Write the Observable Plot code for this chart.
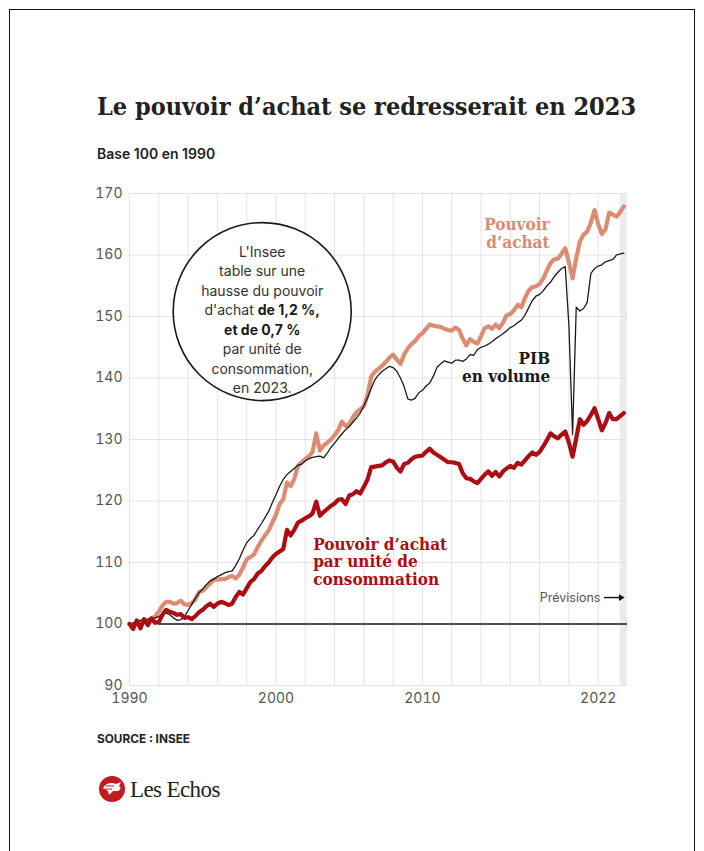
<!DOCTYPE html>
<html><head><meta charset="utf-8">
<script src="https://cdn.jsdelivr.net/npm/d3@7"></script>
<script src="https://cdn.jsdelivr.net/npm/@observablehq/plot@0.6"></script>
<style>
body{margin:0;background:#fff;width:704px;height:851px;position:relative;overflow:hidden;font-family:Inter,"Noto Sans",sans-serif;}
#frame{position:absolute;left:9px;top:9px;width:686px;height:860px;border:1px solid #111;box-sizing:border-box;}
#title{position:absolute;left:97px;top:94px;font-family:"DejaVu Serif Condensed","DejaVu Serif",serif;font-stretch:condensed;font-weight:bold;font-size:25px;line-height:1;color:#222;white-space:nowrap;}
#sub{position:absolute;left:97px;top:147px;font-weight:600;font-size:14px;line-height:1;color:#222;white-space:nowrap;}
#chart{position:absolute;left:0;top:170px;}
#source{position:absolute;left:97px;top:734px;font-size:11.8px;font-weight:700;line-height:1;color:#222;}
#logo{position:absolute;left:97px;top:774px;}
</style>
</head><body>
<div id="frame"></div>
<div id="title">Le pouvoir d’achat se redresserait en 2023</div>
<div id="sub">Base 100 en 1990</div>
<div id="chart"></div>
<div id="source">SOURCE : INSEE</div>
<div id="logo"><svg width="150" height="32">
<circle cx="15" cy="15" r="13" fill="#c41a1f"/>
<path d="M6 14 C9 9,14 8,19 10 L24 8 L22 12 C24 13,24 16,21 17 L16 17 L12 21 L11 17 Z" fill="#fff"/>
<path d="M9 12 L17 12 M8 15 L15 15" stroke="#c41a1f" stroke-width="1"/>
<text x="33" y="23" font-family="Liberation Serif, serif" font-size="23" fill="#222" letter-spacing="-0.6">Les Echos</text>
</svg></div>
<script>
// ---- Data (quarterly, 1990 Q1 to 2023 Q4), base 100 in 1990 ----
const years = d3.range(1990, 2024, 0.25);

// Pouvoir d'achat
const pouvoirAchat = [
100.0, 99.5,100.4,100.3,
100.7,100.4,100.9,101.2,
102.0,103.0,103.6,103.6,
103.3,103.4,103.8,103.2,
103.1,103.4,104.0,105.2,
105.4,106.0,106.6,107.2,
107.2,107.3,107.3,107.6,
107.8,107.4,108.0,109.2,
110.5,110.9,111.3,112.5,
113.5,114.4,115.2,116.5,
117.8,119.5,120.3,123.0,
122.4,123.6,125.7,126.3,
126.8,127.3,128.0,131.0,
128.2,129.0,129.5,130.0,
130.7,131.5,132.9,132.2,
132.5,133.6,134.4,134.9,
135.4,137.2,140.2,141.0,
141.5,142.0,142.6,143.3,
143.8,143.0,142.3,143.8,
144.8,145.5,146.0,146.8,
147.3,148.0,148.7,148.5,
148.4,148.3,148.0,147.8,
147.7,148.2,147.8,146.4,
145.3,146.3,145.9,145.6,
146.8,148.1,148.4,148.0,
148.7,148.1,149.0,150.2,
150.4,151.0,151.9,151.5,
153.0,154.2,154.8,154.9,
155.3,156.2,157.5,158.7,
159.3,159.4,160.2,161.1,
158.8,156.2,159.5,162.2,
163.3,163.8,165.3,167.3,
165.0,163.4,164.2,166.9,
166.6,166.2,167.0,167.9];

// Pouvoir d'achat par unité de consommation
const pouvoirAchatUC = [
100.0, 99.2,100.6, 99.3,
100.8, 99.8,100.9,100.2,
100.3,101.5,102.3,102.0,
101.8,101.5,101.6,101.0,
101.1,100.8,101.3,101.9,
102.3,102.9,103.3,102.8,
103.3,103.6,103.4,103.1,
103.3,104.4,105.2,104.8,
105.8,106.8,107.3,108.2,
108.6,109.4,110.0,110.8,
111.4,111.8,112.2,115.3,
114.4,115.3,116.5,116.8,
117.2,117.5,118.0,119.9,
117.6,118.2,118.7,119.2,
119.6,120.2,120.3,119.5,
120.9,121.1,121.6,121.2,
122.3,123.5,125.5,125.6,
125.7,125.8,126.3,126.6,
126.4,125.4,124.8,126.0,
126.2,126.8,127.2,127.3,
127.4,128.0,128.5,127.9,
127.5,127.1,126.7,126.3,
126.3,126.2,126.0,124.5,
123.7,123.6,123.2,122.9,
123.6,124.3,124.8,124.1,
124.7,124.0,124.8,125.3,
125.7,125.4,126.2,125.9,
126.6,127.3,127.9,127.5,
128.0,128.9,129.9,131.0,
130.5,130.2,130.8,131.3,
129.5,127.2,130.2,133.3,
132.4,133.0,134.0,135.1,
133.3,131.5,132.7,134.3,
133.3,133.3,133.8,134.3];

// PIB en volume
const pibVolume = [
100.0,100.2,100.4,100.6,
100.6,100.8,100.9,101.0,
101.2,101.6,101.8,101.5,
101.0,100.6,100.7,101.2,
102.2,103.2,104.2,105.1,
105.7,106.4,107.0,107.3,
107.7,108.0,108.3,108.5,
108.6,109.5,110.6,112.0,
113.2,113.9,114.4,115.4,
116.3,117.3,118.3,119.7,
121.0,122.4,123.5,124.3,
124.8,125.3,125.8,126.0,
126.5,126.9,127.1,127.2,
127.3,127.0,127.8,128.7,
129.4,130.2,130.9,131.6,
132.1,132.8,133.5,134.3,
135.5,136.8,138.3,139.7,
140.5,141.1,141.5,141.9,
141.7,141.1,140.0,138.6,
136.6,136.4,136.7,137.6,
138.0,138.7,139.2,140.3,
141.8,142.3,142.8,142.6,
142.4,142.9,142.9,142.7,
143.1,143.8,143.7,144.6,
145.0,145.2,145.5,145.9,
146.4,146.8,147.2,147.7,
148.2,148.5,149.0,149.4,
150.2,151.4,152.6,153.3,
153.6,154.2,155.0,155.6,
156.5,157.2,157.8,158.1,
148.5,130.8,151.5,150.9,
151.3,152.3,157.0,157.8,
158.2,158.4,158.9,159.1,
159.3,160.0,160.2,160.3];

// Axes
const xDomain = [1990, 2024];
const yDomain = [90, 170];
const xTickLabels = [1990, 2000, 2010, 2022];
const xGridYears = [1990,1992,1994,1996,1998,2000,2002,2004,2006,2008,2010,2012,2014,2016,2018,2020,2022];
const yTicks = [90,100,110,120,130,140,150,160,170];
const baseline = [{y: 100, from: 1992, to: 2024}];
const forecast = [{from: 2023.5, to: 2024}];

// Annotations (data coordinates)
const rightLabels = [
  {text: "Pouvoir\nd’achat", x: 2018.68, y: 161.2, color: "#d98a70"},
  {text: "PIB\nen volume", x: 2018.72, y: 139.4, color: "#1a1a1a"}
];
const leftLabels = [
  {text: "Pouvoir d’achat\npar unité de\nconsommation", x: 2002.54, y: 106.3, color: "#ac0c12"}
];
const bubble = [{x: 1999.06, y: 150.8,
  text: "L'Insee\ntable sur une\nhausse du pouvoir\nd'achat de 1,2 %,\net de 0,7 %\npar unité de\nconsommation,\nen 2023.", textY: 137.55}];
const forecastNote = [{text: "Prévisions", x: 2022.15, y: 104.3, arrowFrom: 2022.4, arrowTo: 2023.55}];

const table = years.map((yr, i) => ({year: yr, pa: pouvoirAchat[i], uc: pouvoirAchatUC[i], pib: pibVolume[i]}));

const serif = "'DejaVu Serif Condensed','DejaVu Serif',serif";

const chart = Plot.plot({
  width: 704, height: 545,
  marginLeft: 129, marginRight: 77, marginTop: 23, marginBottom: 30,
  style: {fontFamily: "Inter, 'Noto Sans', sans-serif", fontSize: "14px", color: "#555", background: "transparent", overflow: "visible"},
  x: {domain: xDomain, ticks: xTickLabels, tickFormat: d => String(d), tickSize: 0, tickPadding: 8, label: null},
  y: {domain: yDomain, ticks: yTicks, tickSize: 0, tickPadding: 7, label: null},
  marks: [
    Plot.rect(forecast, {x1: "from", x2: "to", y1: yDomain[0], y2: yDomain[1], fill: "#ececec"}),
    Plot.ruleX(xGridYears, {stroke: "#e3e3e3", strokeWidth: 1}),
    Plot.ruleY(yTicks, {stroke: "#e3e3e3", strokeWidth: 1}),
    Plot.ruleY(baseline, {y: "y", x1: "from", x2: "to", stroke: "#1a1a1a", strokeWidth: 1.3}),
    Plot.line(table, {x: "year", y: "pa", stroke: "#dc8c73", strokeWidth: 4.2}),
    Plot.line(table, {x: "year", y: "pib", stroke: "#1a1a1a", strokeWidth: 1.3}),
    Plot.line(table, {x: "year", y: "uc", stroke: "#ac0c12", strokeWidth: 4.2}),
    Plot.dot(bubble, {x: "x", y: "y", r: 89, fill: "white", stroke: "#1a1a1a", strokeWidth: 1.6}),
    Plot.text(bubble, {x: "x", y: "textY", text: "text", lineAnchor: "bottom", lineHeight: 1.39, fontSize: 14, fill: "#333", textAnchor: "middle"}),
    Plot.text(rightLabels, {x: "x", y: "y", text: "text", textAnchor: "end", fill: d => d.color, lineAnchor: "bottom", lineHeight: 1.05, fontSize: 17, fontWeight: "bold", fontFamily: serif}),
    Plot.text(leftLabels, {x: "x", y: "y", text: "text", textAnchor: "start", fill: d => d.color, lineAnchor: "bottom", lineHeight: 1.05, fontSize: 17, fontWeight: "bold", fontFamily: serif}),
    Plot.text(forecastNote, {x: "x", y: "y", text: "text", textAnchor: "end", fontSize: 12.5, fill: "#555"}),
    Plot.link(forecastNote, {x1: "arrowFrom", x2: "arrowTo", y1: "y", y2: "y", stroke: "#111", strokeWidth: 1.4}),
    Plot.dot(forecastNote, {x: "arrowTo", y: "y", symbol: "triangle2", rotate: 90, r: 3.2, fill: "#111"})
  ]
});
document.getElementById("chart").appendChild(chart);

// mixed-weight lines inside the bubble
d3.select(chart).selectAll("tspan").each(function() {
  const t = this.textContent;
  if (t === "d'achat de 1,2 %,") {
    const s = d3.select(this); s.text("");
    s.append("tspan").text("d'achat ");
    s.append("tspan").attr("font-weight", "bold").attr("fill", "#1a1a1a").text("de 1,2 %,");
  } else if (t === "et de 0,7 %") {
    d3.select(this).attr("font-weight", "bold").attr("fill", "#1a1a1a");
  }
});
</script>
</body></html>
